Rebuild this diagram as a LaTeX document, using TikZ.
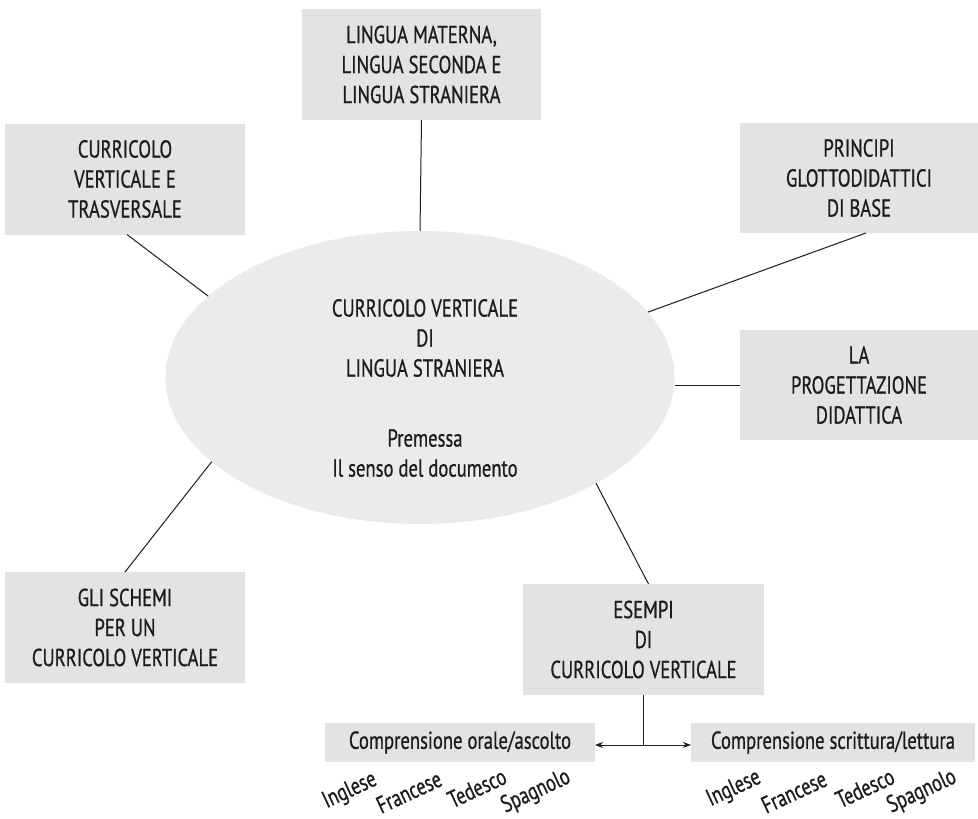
\documentclass[tikz,border=0pt]{standalone}
\usepackage{fontspec}
\setmainfont{PT Sans}[FakeStretch=0.76,FakeBold=0.7]
\usetikzlibrary{shapes.geometric,arrows.meta,calc}
\definecolor{boxgray}{RGB}{226,227,227}
\definecolor{ovalgray}{RGB}{234,235,234}
\definecolor{ink}{RGB}{30,27,28}
\begin{document}
\begin{tikzpicture}[x=1pt,y=-1pt,
  every node/.style={inner sep=0pt, outer sep=0pt, text=ink},
  topic/.style={fill=boxgray, minimum width=240pt, minimum height=111pt,
    align=center, font=\fontsize{24.5}{30}\selectfont},
  langbox/.style={fill=boxgray, minimum height=39pt,
    font=\fontsize{24.5}{30}\selectfont},
  word/.style={rotate=25, font=\fontsize{24}{28}\selectfont},
  link/.style={draw=ink, line width=1pt},
  tip/.style={link, -{Stealth[length=8pt,width=6pt]}},
]
\useasboundingbox (0,0) rectangle (978,819);

% central oval
\node[ellipse, fill=ovalgray, minimum width=509pt, minimum height=293pt] (c) at (420,377.5) {};
\node[align=center, font=\fontsize{24.5}{30}\selectfont] (ctext) at (425,388)
  {CURRICOLO VERTICALE\\DI\\LINGUA STRANIERA\\[40pt]Premessa\\Il senso del documento};

% surrounding topics
\node[topic, minimum width=239pt] (tm) at (421.5,64.5) {LINGUA MATERNA,\\LINGUA SECONDA E\\LINGUA STRANIERA};
\node[topic] (cv) at (125,179) {CURRICOLO\\VERTICALE E\\TRASVERSALE};
\node[topic, minimum width=238pt, minimum height=110pt] (pg) at (859,178) {PRINCIPI\\GLOTTODIDATTICI\\DI BASE};
\node[topic, minimum width=238pt, minimum height=110pt] (pd) at (859,385) {LA\\PROGETTAZIONE\\DIDATTICA};
\node[topic] (gs) at (125,627.5) {GLI SCHEMI\\PER UN\\CURRICOLO VERTICALE};
\node[topic, minimum width=241pt] (es) at (643.5,639.5) {ESEMPI\\DI\\CURRICOLO VERTICALE};

% the two comprehension areas
\node[langbox, minimum width=270pt] (co) at (460,742.5) {Comprensione orale/ascolto};
\node[langbox, minimum width=284pt] (cs) at (833,742.5) {Comprensione scrittura/lettura};

% languages
\node[word] (ing1) at (350,791) {Inglese};
\node[word] (fra1) at (409,792) {Francese};
\node[word] (ted1) at (477,788) {Tedesco};
\node[word] (spa1) at (536,792) {Spagnolo};
\node[word] (ing2) at (734,789) {Inglese};
\node[word] (fra2) at (794,792) {Francese};
\node[word] (ted2) at (865,788) {Tedesco};
\node[word] (spa2) at (922,792) {Spagnolo};

% connectors
\draw[link] (tm.south) -- (c.north);
\draw[link] ($(cv.south)+(2,0)$) -- (c.159.5);
\draw[link] ($(pg.south)+(7,0)$) -- (c.16);
\draw[link] (pd.west) -- (c.east |- pd.west);
\draw[link] (gs.north) -- (c.202.4);
\draw[link] ($(es.north)+(5,0)$) -- (c.-31.4);

\coordinate (j) at ($(es.south)+(0,50)$);
\draw[link] (es.south) -- (j);
\draw[tip] (j) -- (co.east |- j);
\draw[tip] (j) -- (cs.west |- j);
\end{tikzpicture}
\end{document}
